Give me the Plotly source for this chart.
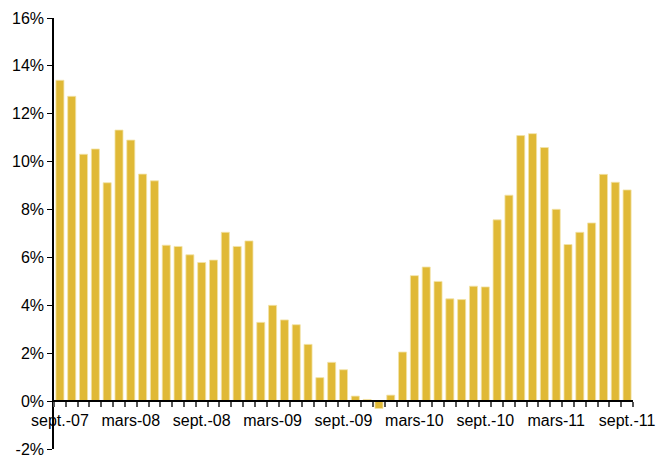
import plotly.graph_objects as go

months = ["sept.-07","oct.-07","nov.-07","déc.-07","janv.-08","févr.-08","mars-08","avr.-08","mai-08","juin-08","juil.-08","août-08",
          "sept.-08","oct.-08","nov.-08","déc.-08","janv.-09","févr.-09","mars-09","avr.-09","mai-09","juin-09","juil.-09","août-09",
          "sept.-09","oct.-09","nov.-09","déc.-09","janv.-10","févr.-10","mars-10","avr.-10","mai-10","juin-10","juil.-10","août-10",
          "sept.-10","oct.-10","nov.-10","déc.-10","janv.-11","févr.-11","mars-11","avr.-11","mai-11","juin-11","juil.-11","août-11",
          "sept.-11"]
values = [13.4, 12.73, 10.31, 10.53, 9.12, 11.32, 10.9, 9.48, 9.2,
          6.51, 6.46, 6.11, 5.79, 5.89, 7.05, 6.46, 6.69, 3.29, 4.0, 3.39, 3.19, 2.37, 0.98,
          1.62, 1.31, 0.21, 0.07, -0.31, 0.25, 2.05, 5.24, 5.6, 5.0, 4.27, 4.24, 4.8, 4.77,
          7.57, 8.6, 11.09, 11.17, 10.59, 8.01, 6.54, 7.05, 7.44, 9.47, 9.14, 8.82]
label_every = 6
y_ticks = [-2, 0, 2, 4, 6, 8, 10, 12, 14, 16]

x = list(range(len(months)))
tickvals = x[::label_every]
ticktext = months[::label_every]

fig = go.Figure(go.Bar(
    x=x, y=values,
    marker=dict(color="#E0B936", line=dict(color="#F2E3A8", width=0.8)),
    width=0.68,
    hovertext=months,
))

font = dict(family="Liberation Sans, Arial, sans-serif", size=16, color="#000000")

fig.update_layout(
    width=656, height=459,
    margin=dict(l=54, r=23, t=18, b=10, autoexpand=False),
    paper_bgcolor="white", plot_bgcolor="white",
    showlegend=False,
    font=font,
    xaxis=dict(
        range=[-0.5, len(months) - 0.5],
        tickmode="array", tickvals=tickvals, ticktext=ticktext,
        ticks="", showgrid=False, zeroline=False, automargin=False,
        showline=True, linecolor="#000000", linewidth=1.5,
        anchor="free", position=2 / 18,
        tickfont=font, ticklabelstandoff=5, ticklabeloverflow="allow",
        minor=dict(tick0=-0.5, dtick=1, ticks="outside", ticklen=5, tickcolor="#555555", tickwidth=1.5, showgrid=False),
    ),
    yaxis=dict(
        range=[-2, 16],
        tickmode="array", tickvals=y_ticks, ticktext=[f"{v}%" for v in y_ticks],
        ticks="outside", ticklen=5, tickcolor="#000000", tickwidth=1,
        showgrid=False, zeroline=False, automargin=False,
        showline=True, linecolor="#000000", linewidth=1.5,
        tickfont=font, ticklabeloverflow="allow",
    ),
)

fig.write_html(
    "out.html",
    config={"displayModeBar": False},
    post_script="document.body.style.margin='0';document.body.style.overflow='hidden';",
)
